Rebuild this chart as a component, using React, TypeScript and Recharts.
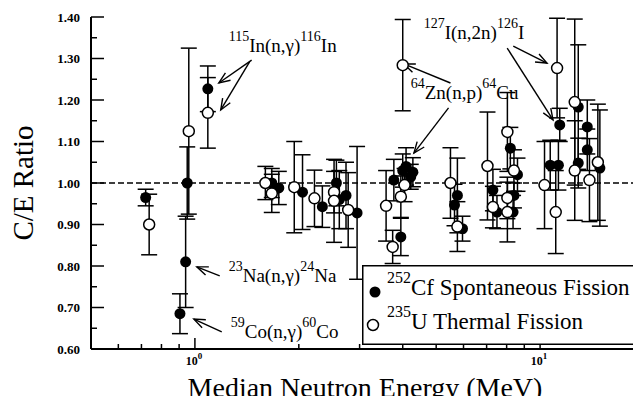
import React from 'react';
import { ScatterChart, Scatter, XAxis, YAxis, ErrorBar, ReferenceLine, ReferenceDot, Legend } from 'recharts';

const SERIF = 'Liberation Serif, Times New Roman, Times, DejaVu Serif, serif';

// 252Cf spontaneous fission (filled)
const cfEnergy = [0.72, 0.95, 0.94, 0.905, 1.09, 1.67, 1.75, 2.05, 2.34, 2.57, 2.62, 2.74, 2.95, 3.77, 3.95, 4.09, 4.22, 4.0, 4.28, 5.65, 5.76, 5.96, 7.3, 7.5, 8.2, 8.35, 8.4, 8.6, 10.7, 11.3, 11.4, 12.9, 12.9, 13.7, 13.7, 14.9];
const cfRatio = [0.965, 1.0, 0.81, 0.685, 1.227, 1.0, 0.988, 0.978, 0.943, 1.0, 0.96, 0.97, 0.928, 1.007, 0.87, 1.04, 1.015, 1.03, 1.026, 0.947, 0.97, 0.89, 0.983, 0.93, 1.084, 0.93, 0.97, 1.02, 1.043, 1.043, 1.14, 1.183, 1.048, 1.135, 1.08, 1.036];
const cfError = [0.02, 0.087, 0.11, 0.048, 0.055, 0.035, 0.04, 0.09, 0.05, 0.055, 0.07, 0.08, 0.16, 0.05, 0.045, 0.045, 0.03, 0.04, 0.035, 0.05, 0.09, 0.03, 0.05, 0.04, 0.05, 0.04, 0.03, 0.04, 0.06, 0.06, 0.04, 0.15, 0.06, 0.065, 0.05, 0.14];

// 235U thermal fission (open)
const uEnergy = [0.737, 0.96, 1.09, 1.6, 1.67, 1.94, 2.22, 2.53, 2.53, 2.78, 3.58, 3.74, 3.95, 4.05, 4.0, 5.5, 5.76, 7.04, 7.3, 8.04, 8.4, 8.04, 8.04, 10.3, 11.1, 11.2, 12.6, 12.6, 13.9, 14.7];
const uRatio = [0.9, 1.125, 1.169, 1.0, 0.975, 0.99, 0.963, 0.978, 0.957, 0.935, 0.945, 0.846, 0.967, 0.995, 1.284, 1.0, 0.895, 1.041, 0.942, 1.123, 1.03, 0.964, 0.93, 0.995, 0.93, 1.277, 1.195, 1.03, 1.007, 1.05];
const uError = [0.073, 0.2, 0.085, 0.04, 0.046, 0.11, 0.068, 0.05, 0.1, 0.09, 0.085, 0.04, 0.05, 0.04, 0.11, 0.085, 0.06, 0.13, 0.05, 0.095, 0.05, 0.05, 0.072, 0.105, 0.1, 0.12, 0.2, 0.12, 0.1, 0.14];

const xTicks = [0.5, 0.6, 0.7, 0.8, 0.9, 1, 2, 3, 4, 5, 6, 7, 8, 9, 10, 20];
const xMajor = [1, 10];
const yTicks = [0.6, 0.65, 0.7, 0.75, 0.8, 0.85, 0.9, 0.95, 1.0, 1.05, 1.1, 1.15, 1.2, 1.25, 1.3, 1.35, 1.4];

// annotation labels: anchor (energy, ratio) at text baseline start; [text, superscript?]
const notes = [
  { x: 1.253, y: 1.316, parts: [['115', true], ['In(n,\u03b3)', false], ['116', true], ['In', false]] },
  { x: 1.253, y: 0.761, parts: [['23', true], ['Na(n,\u03b3)', false], ['24', true], ['Na', false]] },
  { x: 1.27, y: 0.627, parts: [['59', true], ['Co(n,\u03b3)', false], ['60', true], ['Co', false]] },
  { x: 4.22, y: 1.202, parts: [['64', true], ['Zn(n,p)', false], ['64', true], ['Cu', false]] },
  { x: 4.6, y: 1.347, parts: [['127', true], ['I(n,2n)', false], ['126', true], ['I', false]] },
];

// arrows: tail -> head, in (energy, ratio)
const arrows = [
  [[1.46, 1.296], [1.173, 1.241]],
  [[1.44, 1.292], [1.188, 1.176]],
  [[1.18, 0.776], [1.013, 0.798]],
  [[1.196, 0.641], [0.993, 0.672]],
  [[5.5, 1.241], [4.03, 1.287]],
  [[5.43, 1.181], [4.31, 1.072]],
  [[8.36, 1.33], [10.47, 1.289]],
  [[8.03, 1.325], [10.9, 1.152]],
];

const cfData = cfEnergy.map((x, i) => ({ x, y: cfRatio[i], err: cfError[i] }));
const uData = uEnergy.map((x, i) => ({ x, y: uRatio[i], err: uError[i] }));

const isMajorY = (v: number) => Math.abs(v * 10 - Math.round(v * 10)) < 1e-6;

function BottomTick(props: any) {
  const { x, y, payload } = props;
  const major = xMajor.includes(payload.value);
  return (
    <g>
      <line x1={x} x2={x} y1={y} y2={y - (major ? 11 : 5)} stroke="#000" strokeWidth={1.5} />
      {major && (
        <text x={x - 1} y={y + 16} textAnchor="middle" style={{ fontFamily: SERIF }} fontWeight="bold" fontSize={12} fill="#000">
          10<tspan dy={-6} fontSize={9}>{Math.round(Math.log10(payload.value))}</tspan>
        </text>
      )}
    </g>
  );
}

function TopTick(props: any) {
  const { x, y, payload } = props;
  const major = xMajor.includes(payload.value);
  return <line x1={x} x2={x} y1={y} y2={y + (major ? 11 : 5)} stroke="#000" strokeWidth={1.5} />;
}

function LeftTick(props: any) {
  const { x, y, payload } = props;
  const major = isMajorY(payload.value);
  return (
    <g>
      <line x1={x} x2={x + (major ? 13 : 6)} y1={y} y2={y} stroke="#000" strokeWidth={1.5} />
      {major && (
        <text x={x - 11} y={y} dy="0.35em" textAnchor="end" style={{ fontFamily: SERIF }} fontWeight="bold" fontSize={13} fill="#000">
          {payload.value.toFixed(2)}
        </text>
      )}
    </g>
  );
}

function RightTick(props: any) {
  const { x, y, payload } = props;
  const major = isMajorY(payload.value);
  return <line x1={x} x2={x - (major ? 13 : 6)} y1={y} y2={y} stroke="#000" strokeWidth={1.5} />;
}

function Arrow(p: any) {
  const { x1, y1, x2, y2 } = p;
  const a = Math.atan2(y2 - y1, x2 - x1);
  const len = 12;
  const sp = 0.38;
  const ax = x2 - len * Math.cos(a - sp), ay = y2 - len * Math.sin(a - sp);
  const bx = x2 - len * Math.cos(a + sp), by = y2 - len * Math.sin(a + sp);
  return (
    <g>
      <line x1={x1} y1={y1} x2={x2} y2={y2} stroke="#000" strokeWidth={1.4} />
      <polyline points={`${ax},${ay} ${x2},${y2} ${bx},${by}`} fill="none" stroke="#000" strokeWidth={1.4} />
    </g>
  );
}

function NoteText({ cx, cy, parts }: any) {
  const out: any[] = [];
  let up = false;
  parts.forEach(([t, sup]: [string, boolean], i: number) => {
    let dy = 0;
    if (sup && !up) { dy = -11; up = true; }
    else if (!sup && up) { dy = 11; up = false; }
    out.push(<tspan key={i} dy={dy} fontSize={sup ? 14 : 19}>{t}</tspan>);
  });
  return <text x={cx} y={cy} style={{ fontFamily: SERIF }} fill="#000">{out}</text>;
}

function LegendBox() {
  return (
    <svg width={276} height={80} style={{ display: 'block' }}>
      <rect x={0.75} y={0.75} width={274.5} height={78.5} fill="#fff" stroke="#000" strokeWidth={1.5} />
      <circle cx={13} cy={27} r={5.5} fill="#000" />
      <circle cx={11} cy={60} r={5.5} fill="#fff" stroke="#000" strokeWidth={1.5} />
      <text x={25} y={30} style={{ fontFamily: SERIF }} fontSize={23} fill="#000">
        <tspan dy={-12} fontSize={16}>252</tspan><tspan dy={12}>Cf Spontaneous Fission</tspan>
      </text>
      <text x={25} y={64} style={{ fontFamily: SERIF }} fontSize={23} fill="#000">
        <tspan dy={-12} fontSize={16}>235</tspan><tspan dy={12}>U Thermal Fission</tspan>
      </text>
    </svg>
  );
}

function XTitle({ viewBox }: any) {
  return (
    <text x={viewBox.x + 274} y={viewBox.y + 48} textAnchor="middle" style={{ fontFamily: SERIF }} fontSize={28} fill="#000">
      Median Neutron Energy (MeV)
    </text>
  );
}

function YTitle() {
  return (
    <text x={33} y={183} transform="rotate(-90 33 183)" textAnchor="middle" style={{ fontFamily: SERIF }} fontSize={29} fill="#000">
      C/E Ratio
    </text>
  );
}

const axisStroke = { stroke: '#000', strokeWidth: 2 };

export default function App() {
  return (
    <div style={{ margin: -8, width: 641, height: 404, overflow: 'hidden', background: '#fff', fontFamily: SERIF }}>
      <ScatterChart width={660} height={404} margin={{ top: 17, right: 16, bottom: 0, left: 0 }}>
        <XAxis dataKey="x" type="number" scale="log" domain={[0.5, 20]} allowDataOverflow ticks={xTicks} interval={0}
          tickSize={0} tickMargin={0} tickLine={false} axisLine={axisStroke} tick={<BottomTick />} height={55}
          label={<XTitle />} />
        <XAxis xAxisId="top" orientation="top" dataKey="x" type="number" scale="log" domain={[0.5, 20]} allowDataOverflow ticks={xTicks} interval={0}
          tickSize={0} tickMargin={0} tickLine={false} axisLine={axisStroke} tick={<TopTick />} height={0} />
        <YAxis dataKey="y" type="number" domain={[0.6, 1.4]} allowDataOverflow ticks={yTicks} interval={0}
          tickSize={0} tickMargin={0} tickLine={false} axisLine={axisStroke} tick={<LeftTick />} width={91}
          label={<YTitle />} />
        <YAxis yAxisId="right" orientation="right" dataKey="y" type="number" domain={[0.6, 1.4]} allowDataOverflow ticks={yTicks} interval={0}
          tickSize={0} tickMargin={0} tickLine={false} axisLine={axisStroke} tick={<RightTick />} width={0} />
        <ReferenceLine y={1} stroke="#000" strokeWidth={1.5} strokeDasharray="6 3" />
        <Scatter name="Cf" data={cfData} isAnimationActive={false}
          shape={(p: any) => <circle cx={p.cx} cy={p.cy} r={5.5} fill="#000" />}>
          <ErrorBar dataKey="err" direction="y" width={8} stroke="#000" strokeWidth={1.5} />
        </Scatter>
        <Scatter name="U" data={uData} isAnimationActive={false}
          shape={(p: any) => <circle cx={p.cx} cy={p.cy} r={5.5} fill="#fff" stroke="#000" strokeWidth={1.5} />}>
          <ErrorBar dataKey="err" direction="y" width={8} stroke="#000" strokeWidth={1.5} />
        </Scatter>
        {arrows.map((a, i) => (
          <ReferenceLine key={`ar-${i}`} segment={[{ x: a[0][0], y: a[0][1] }, { x: a[1][0], y: a[1][1] }]} ifOverflow="visible" shape={Arrow} />
        ))}
        {notes.map((n, i) => (
          <ReferenceDot key={`nt-${i}`} x={n.x} y={n.y} r={0} ifOverflow="visible"
            shape={(p: any) => <NoteText cx={p.cx} cy={p.cy} parts={n.parts} />} />
        ))}
        <Legend layout="horizontal" verticalAlign="middle" align="center"
          wrapperStyle={{ left: 362, top: 265, width: 276, height: 80 }} content={() => <LegendBox />} />
      </ScatterChart>
    </div>
  );
}
